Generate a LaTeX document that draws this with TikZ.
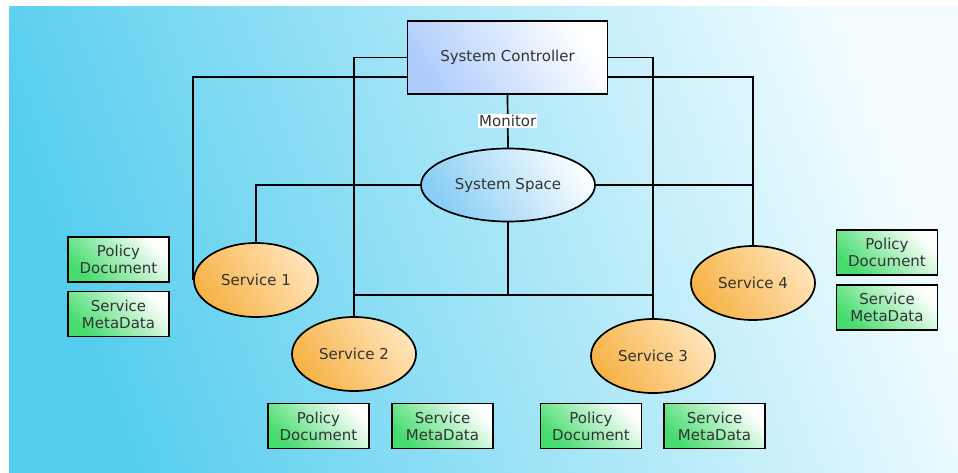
\documentclass[tikz,border=0pt]{standalone}
\usepackage{fontspec}
\setmainfont{DejaVu Sans}
\usetikzlibrary{shapes.geometric}

\definecolor{sfondo}{RGB}{85,205,238}
\definecolor{sfondochiaro}{RGB}{242,252,255}
\definecolor{verde}{RGB}{70,220,110}
\definecolor{arancio}{RGB}{246,178,70}
\definecolor{pesca}{RGB}{255,228,185}
\definecolor{azzurro}{RGB}{135,205,245}
\definecolor{lilla}{RGB}{175,205,252}

\begin{document}
\begin{tikzpicture}[x=1pt, y=-1pt, line width=1.7pt,
  every node/.style={draw, font=\fontsize{15}{17}\selectfont, text=black!80},
  controllore/.style={rectangle, minimum width=200pt, minimum height=73pt, left color=lilla, right color=white, shading angle=125},
  spazio/.style={ellipse, minimum width=174pt, minimum height=73pt, left color=azzurro, right color=white!95!azzurro, shading angle=125},
  servizio/.style={ellipse, minimum width=124pt, minimum height=74pt, left color=arancio, right color=pesca, shading angle=125},
  documento/.style={rectangle, minimum width=101pt, minimum height=45pt, align=center, inner sep=1pt, left color=verde, right color=white, shading angle=135},
  monitor/.style={draw=none, fill=white, inner sep=1pt}]

\useasboundingbox (0,0) rectangle (958,472);

% Sfondo
\shade[left color=sfondo, right color=sfondochiaro, shading angle=110] (9,6) rectangle (958,472);

% Posizioni dei nodi
\node[controllore] (ctrl) at (507.5,57.5) {System Controller};
\node[spazio] (space) at (508,185) {System Space};
\node[servizio] (s1) at (256,280) {Service 1};
\node[servizio] (s2) at (354,354) {Service 2};
\node[servizio] (s3) at (653,356) {Service 3};
\node[servizio] (s4) at (753,283) {Service 4};

% Documenti
\node[documento] (pd1) at (118.5,259.5) {Policy\\Document};
\node[documento] (md1) at (118.5,314) {Service\\MetaData};
\node[documento] (pd2) at (318.5,426) {Policy\\Document};
\node[documento] (md2) at (442.5,426) {Service\\MetaData};
\node[documento] (pd3) at (591,426) {Policy\\Document};
\node[documento] (md3) at (714.5,426) {Service\\MetaData};
\node[documento] (pd4) at (887,252.5) {Policy\\Document};
\node[documento] (md4) at (887,307.5) {Service\\MetaData};

\coordinate (bus) at (508,295);

% Archi
\draw ([yshift=18pt]ctrl.south west) -| (s1.west);
\draw (ctrl.west) -| (s2.north);
\draw (ctrl.east) -| (s3.north);
\draw ([yshift=18pt]ctrl.south east) -| (s4.north);
\draw (ctrl.south) -- node[monitor] {Monitor} (space.north);
\draw (space.west) -| (s1.north);
\draw (space.east) -- (space.east -| s4.north);
\draw (space.south) -- (bus);
\draw (bus -| s2.north) -- (bus -| s3.north);

\end{tikzpicture}
\end{document}
